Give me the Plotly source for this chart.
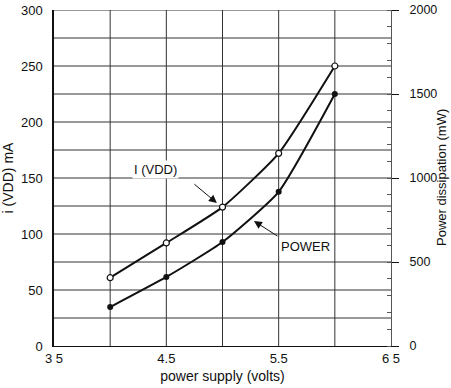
import plotly.graph_objects as go

volts = [4.0, 4.5, 5.0, 5.5, 6.0]
i_vdd_ma = [61, 92, 124, 172, 250]
power_mw = [232, 411, 619, 918, 1500]

x_tickvals = [3.5, 4.5, 5.5, 6.5]
x_ticktext = ["3 5", "4.5", "5.5", "6 5"]
y_tickvals = [0, 50, 100, 150, 200, 250, 300]
y2_tickvals = [0, 500, 1000, 1500, 2000]

FONT = "Liberation Sans, Arial, sans-serif"
INK = "#111111"

fig = go.Figure()
fig.add_trace(go.Scatter(
    x=volts, y=i_vdd_ma, mode="lines+markers", name="I (VDD)",
    line=dict(color=INK, width=2, shape="spline", smoothing=0.5),
    marker=dict(symbol="circle", size=6, color="white", line=dict(color=INK, width=1.2)),
    yaxis="y"))
fig.add_trace(go.Scatter(
    x=volts, y=power_mw, mode="lines+markers", name="POWER",
    line=dict(color=INK, width=2, shape="spline", smoothing=0.5),
    marker=dict(symbol="circle", size=6, color=INK),
    yaxis="y2"))

xgrid = [3.5 + 0.5 * k for k in range(7)]

fig.update_layout(
    width=451, height=388,
    margin=dict(l=54, r=60, t=10, b=42, autoexpand=False),
    paper_bgcolor="white", plot_bgcolor="white",
    showlegend=False,
    font=dict(family=FONT, size=13, color=INK),
    xaxis=dict(range=[3.5, 6.5], tickvals=x_tickvals, ticktext=x_ticktext,
               showgrid=False, automargin=False, ticklabeloverflow="allow",
               showline=True, linecolor=INK, linewidth=1,
               ticks="", ticklabelstandoff=0, zeroline=False,
               title=dict(text="power supply (volts)", standoff=6, font=dict(size=14))),
    yaxis=dict(range=[0, 300], tickvals=y_tickvals, automargin=False, ticklabeloverflow="allow",
               showgrid=False, zeroline=False,
               showline=True, linecolor=INK, linewidth=1.5,
               ticks="", ticklabelstandoff=7,
               title=dict(text="i (VDD) mA", standoff=7, font=dict(size=14))),
    yaxis2=dict(range=[0, 2000], tickvals=y2_tickvals, overlaying="y", side="right",
                showgrid=False, zeroline=False, automargin=False, ticklabeloverflow="allow",
                showline=True, linecolor="#555555", linewidth=1,
                ticks="outside", ticklen=7, tickcolor=INK, ticklabelstandoff=8,
                tickfont=dict(size=12.5),
                minor=dict(dtick=100, ticks="inside", ticklen=4, tickcolor="#555555")),
)

for k in range(1, 13):
    fig.add_shape(type="line", xref="paper", x0=0, x1=1, yref="y", y0=25 * k, y1=25 * k,
                  line=dict(color="#333333", width=1), layer="below")
for xv in xgrid[1:-1]:
    fig.add_shape(type="line", xref="x", x0=xv, x1=xv, yref="paper", y0=0, y1=1,
                  line=dict(color="#333333", width=1), layer="below")

# right axis title
fig.add_annotation(x=1, y=0.5, xref="paper", yref="paper", text="Power dissipation (mW)",
                   textangle=-90, showarrow=False, xanchor="center", yanchor="middle",
                   xshift=50, font=dict(size=13))

fig.add_annotation(x=4.95, y=127.7, xref="x", yref="y", text="", showarrow=True,
                   ax=-24, ay=-20, arrowhead=2, arrowsize=1.6, arrowwidth=1, arrowcolor=INK)
fig.add_annotation(x=4.4, y=158, xref="x", yref="y", text="I (VDD)", showarrow=False,
                   font=dict(size=13), bgcolor="white")
fig.add_annotation(x=5.28, y=111.6, xref="x", yref="y", text="", showarrow=True,
                   ax=25, ay=16, arrowhead=2, arrowsize=1.6, arrowwidth=1, arrowcolor=INK)
fig.add_annotation(x=5.74, y=89, xref="x", yref="y", text="POWER", showarrow=False,
                   font=dict(size=13), bgcolor="white")

fig.write_html("out.html", config={"displayModeBar": False},
               post_script="document.body.style.margin='0';")
